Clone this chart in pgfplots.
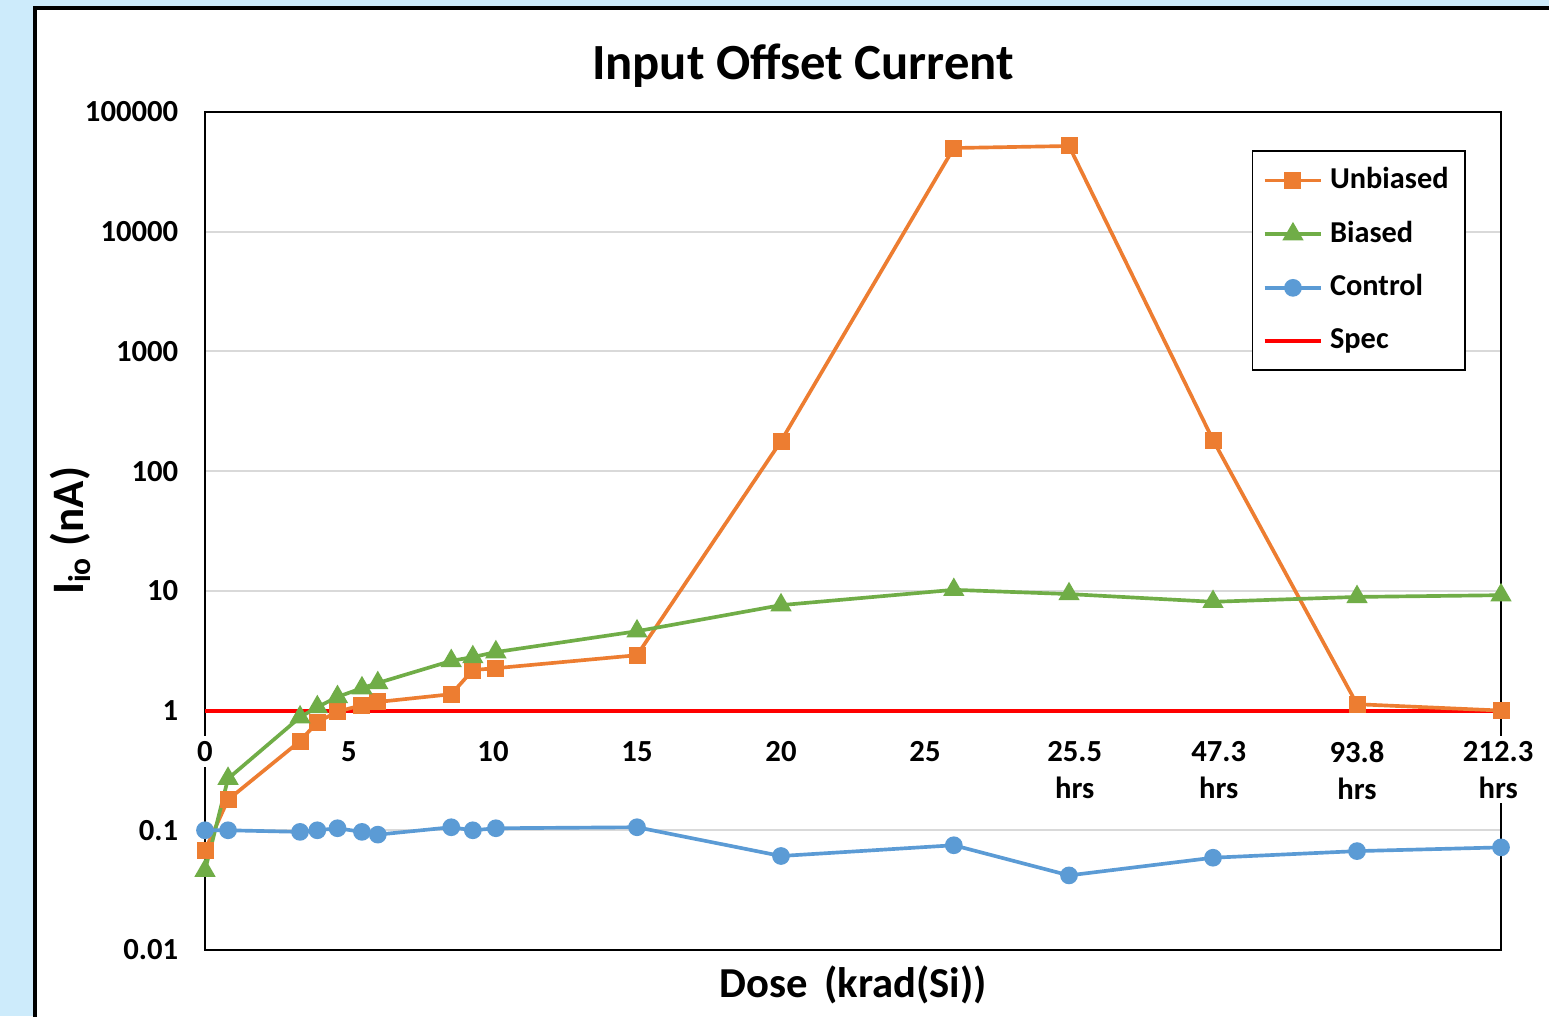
\documentclass[border=0pt]{standalone}
\usepackage{pgfplots}
\pgfplotsset{compat=1.18}
\usepackage{fontspec}
\setmainfont{Carlito}
\definecolor{bgblue}{HTML}{CDEBFB}
\definecolor{unbc}{HTML}{ED7D31}
\definecolor{biac}{HTML}{70AD47}
\definecolor{conc}{HTML}{5B9BD5}
\definecolor{gridc}{HTML}{D9D9D9}

\begin{document}
\begin{tikzpicture}
\path[use as bounding box] (-61.5pt,-19.8pt) rectangle (403.2pt,285pt);
\fill[bgblue] (-61.5pt,-19.8pt) rectangle (403.2pt,285pt);
\fill[white] (-51pt,-40pt) rectangle (420pt,282.6pt);
\draw[line width=1.2pt] (-51pt,-40pt) -- (-51pt,282.6pt) -- (420pt,282.6pt);
\begin{axis}[
    scale only axis,
    width=388.8pt, height=251.4pt,
    at={(0pt,0pt)}, anchor=south west,
    ymode=log,
    xmin=0, xmax=45,
    ymin=0.01, ymax=100000,
    ytick={0.01,0.1,1,10,100,1000,10000,100000},
    yticklabels={0.01,0.1,1,10,100,1000,10000,100000},
    xtick={0,5,10,15,20,25,30.2,35.2,40,44.9},
    xticklabels={0,5,10,15,20,25,{25.5\\hrs},{47.3\\hrs},{93.8\\hrs},{212.3\\hrs}},
    major tick length=0pt, minor tick length=0pt, yminorticks=false,
    ymajorgrids, grid style={gridc, line width=0.6pt},
    axis line style={black, line width=0.6pt},
    tick label style={font=\bfseries\fontsize{9.2}{11}\selectfont},
    yticklabel style={xshift=-4.5pt},
    xticklabel style={align=center, anchor=north, yshift=64.3pt, fill=white, inner sep=1.5pt},
    title={\bfseries\fontsize{15.2}{18}\selectfont Input Offset Current},
    title style={at={(axis description cs:0.4614,1.031)}, anchor=center},
    xlabel={\bfseries\fontsize{12.8}{15}\selectfont Dose\, (krad(Si))},
    xlabel style={at={(axis description cs:0.5,-0.042)}, anchor=center},
    ylabel={\bfseries\fontsize{13.5}{16}\selectfont I\textsubscript{io} (nA)},
    ylabel style={at={(axis description cs:-0.104,0.5)}, anchor=center},
    legend style={at={(0.973,0.9547)}, anchor=north east, draw=black, line width=0.5pt,
        font=\bfseries\fontsize{9.1}{11}\selectfont, row sep=4.2pt, inner sep=3pt,
        /tikz/every even column/.append style={column sep=-1pt}},
    legend cell align=left,
]
\addplot[red, line width=1.2pt, forget plot] coordinates {(0,1) (45,1)};
\addplot[unbc, line width=1.1pt, mark=square*, mark size=2pt, mark options={solid}] coordinates {
(0,0.068) (0.8,0.18) (3.3,0.556) (3.9,0.80) (4.6,0.98) (5.45,1.11) (6.0,1.18)
(8.55,1.37) (9.3,2.18) (10.1,2.26) (15,2.9) (20,178) (26,50000) (30,52000)
(35,182) (40,1.13) (45,1.0)};
\addlegendentry{Unbiased}
\addplot[biac, line width=1.1pt, mark=triangle*, mark size=2.6pt, mark options={solid}] coordinates {
(0,0.046) (0.8,0.27) (3.3,0.88) (3.9,1.07) (4.6,1.3) (5.45,1.54) (6.0,1.7)
(8.55,2.6) (9.3,2.8) (10.1,3.08) (15,4.6) (20,7.6) (26,10.2) (30,9.4)
(35,8.1) (40,8.9) (45,9.2)};
\addlegendentry{Biased}
\addplot[conc, line width=1.1pt, mark=*, mark size=2.1pt, mark options={solid}] coordinates {
(0,0.1) (0.8,0.1) (3.3,0.097) (3.9,0.1) (4.6,0.104) (5.45,0.097) (6.0,0.092)
(8.55,0.106) (9.3,0.1) (10.1,0.104) (15,0.106) (20,0.061) (26,0.075) (30,0.042)
(35,0.059) (40,0.067) (45,0.072)};
\addlegendentry{Control}
\addlegendimage{red, line width=1.2pt}
\addlegendentry{Spec}
\end{axis}
\end{tikzpicture}
\end{document}
